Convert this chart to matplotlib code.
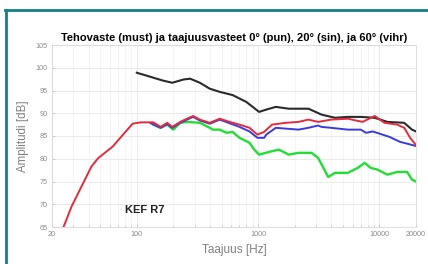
import numpy as np
import matplotlib
matplotlib.use('Agg')
import matplotlib.pyplot as plt
from matplotlib.lines import Line2D
from matplotlib.ticker import FixedLocator, NullFormatter

plt.rcParams['font.family'] = ['Liberation Sans', 'DejaVu Sans']

# Tehovaste (musta)
f_black = [100, 130, 163, 196, 241, 275, 331, 399, 482, 615, 798, 1018, 1166, 1398,
           1787, 2598, 3331, 4306, 5491, 7000, 9126, 11630, 15960, 18550, 20000]
db_black = [98.9, 98.0, 97.2, 96.7, 97.4, 97.6, 96.7, 95.4, 94.7, 94.0, 92.5, 90.3, 90.8, 91.4,
            91.0, 91.0, 89.7, 89.0, 89.2, 89.2, 89.0, 88.1, 87.9, 86.4, 86.0]

# 0 astetta (punainen)
f_red = [24.9, 29.0, 35.0, 42.3, 47.9, 63.4, 78.8, 92.3, 107.8, 130, 137, 157, 178, 196, 228,
         250, 291, 331, 399, 482, 582, 703, 849, 986, 1121, 1300, 1690, 2150, 2590, 3120,
         4000, 5490, 7250, 9130, 11000, 14000, 16000, 17900, 20000]
db_red = [65.0, 69.5, 73.9, 78.3, 80.1, 82.7, 85.6, 87.7, 88.0, 88.0, 88.0, 87.0, 87.9, 87.0, 88.1,
          88.6, 89.4, 88.6, 87.9, 88.8, 88.1, 87.5, 86.8, 85.3, 85.9, 87.5, 87.9, 88.1, 88.6, 88.1,
          88.6, 88.8, 88.1, 89.4, 87.9, 87.5, 86.8, 84.6, 83.0]

# 20 astetta (sininen)
f_blue = [130, 157, 178, 196, 228, 250, 291, 331, 399, 482, 582, 703, 849, 986, 1121, 1166,
          1398, 2150, 2590, 3120, 3331, 4000, 5490, 7000, 7750, 8800, 10600, 12100, 14800,
          17000, 20000]
db_blue = [87.8, 86.8, 87.6, 86.8, 87.9, 88.4, 89.2, 88.4, 87.7, 88.6, 87.8, 87.0, 86.0, 84.6,
           84.6, 85.3, 86.8, 86.4, 86.8, 87.3, 87.0, 86.8, 86.4, 86.4, 85.7, 86.0, 85.3, 84.8,
           83.7, 83.3, 82.8]

# 60 astetta (vihrea)
f_green = [137, 157, 178, 200, 228, 260, 331, 399, 423, 482, 549, 615, 703, 849, 930, 1018,
           1228, 1483, 1790, 2150, 2590, 2750, 3120, 3780, 4300, 5490, 6630, 7560, 8450, 9650,
           11630, 14000, 16900, 18550, 20000]
db_green = [87.5, 86.8, 87.5, 86.4, 87.9, 88.1, 87.9, 86.8, 86.4, 86.4, 85.7, 85.9, 84.6, 83.5,
            82.0, 80.9, 81.5, 82.0, 80.9, 81.3, 81.3, 81.3, 80.2, 76.0, 76.9, 76.9, 78.0, 79.1,
            78.0, 77.6, 76.5, 77.1, 77.1, 75.4, 75.0]

xticks = [20, 100, 1000, 10000, 20000]
xticklabels = ['20', '100', '1000', '10000', '20000']
yticks = [65, 70, 75, 80, 85, 90, 95, 100, 105]

fig = plt.figure(figsize=(4.28, 2.64), dpi=100)
ax = fig.add_axes([52 / 428, 1 - 227 / 264, (416 - 52) / 428, (227 - 45) / 264])

ax.plot(f_black, db_black, color='#2a2a2a', lw=1.5)
ax.plot(f_green, db_green, color='#22dd33', lw=1.7)
ax.plot(f_blue, db_blue, color='#3a3adf', lw=1.4)
ax.plot(f_red, db_red, color='#e42b3b', lw=1.4)

ax.set_xscale('log')
ax.set_xlim(20, 20000)
ax.set_ylim(65, 105)
ax.xaxis.set_major_locator(FixedLocator(xticks))
ax.set_xticklabels(xticklabels)
ax.xaxis.set_minor_formatter(NullFormatter())
ax.set_yticks(yticks)
ax.tick_params(axis='both', which='both', labelsize=5.2, labelcolor='#8a8a8a',
               color='#cccccc', length=2, direction='in', pad=3)
ax.tick_params(axis='x', which='minor', length=1.5)

ax.grid(True, which='major', color='#e6e6e6', lw=0.6)
ax.grid(True, which='minor', axis='x', color='#f2f2f2', lw=0.5)
for s in ax.spines.values():
    s.set_color('#d8d8d8')
    s.set_linewidth(0.6)

ax.set_title('Tehovaste (must) ja taajuusvasteet 0° (pun), 20° (sin), ja 60° (vihr)',
             fontsize=8.0, fontweight='bold', pad=3)
ax.set_xlabel('Taajuus [Hz]', fontsize=8.5, color='#808080', labelpad=4)
ax.set_ylabel('Amplitudi [dB]', fontsize=8.3, color='#808080', labelpad=5)
ax.text(80, 68.0, 'KEF R7', fontsize=8, fontweight='bold', color='#222222')

# reunaviivat
fig.add_artist(Line2D([6 / 428, 6 / 428], [0, 1 - 9.5 / 264], transform=fig.transFigure,
                      color='#12808a', lw=2))
fig.add_artist(Line2D([5 / 428, 1], [1 - 9.5 / 264, 1 - 9.5 / 264], transform=fig.transFigure,
                      color='#12808a', lw=2))

fig.savefig('out.png', dpi=100)
